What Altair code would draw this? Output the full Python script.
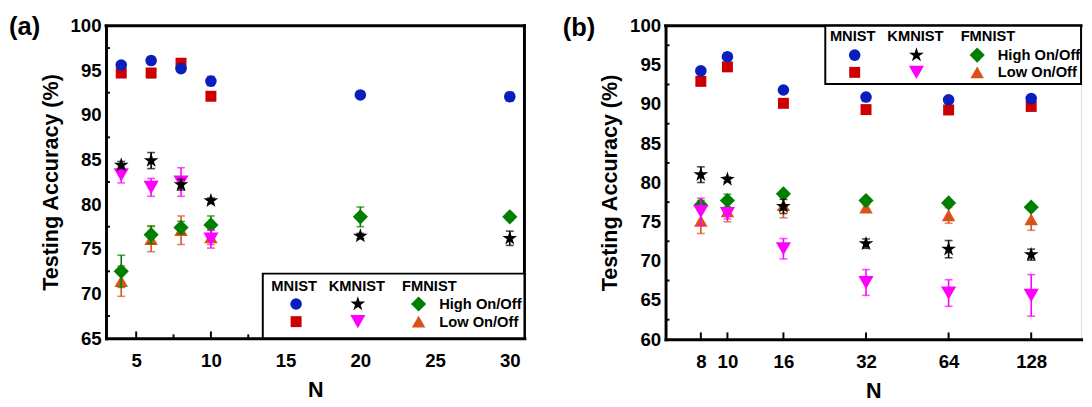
import altair as alt
import pandas as pd

FONT = "Liberation Sans"

# ---------------- data: panel (a) ----------------
a_N = [4, 6, 8, 10, 20, 30]
a_mnist_high = [95.6, 96.1, 95.2, 93.8, 92.25, 92.05]
a_mnist_high_err = [0.3, 0.3, 0.3, 0.5, 0.3, 0.5]
a_mnist_low = [94.7, 94.7, 95.8, 92.1]
a_mnist_low_err = [0.4, 0.5, 0.3, 0.3]
a_kmnist_high = [84.4, 84.9, 82.2, 80.4, 76.45, 76.2]
a_kmnist_high_err = [0.4, 0.9, 0.6, 0.3, 0.3, 0.8]
a_kmnist_low = [83.3, 81.9, 82.5, 76.1]
a_kmnist_low_err = [0.9, 1.0, 1.6, 1.0]
a_fmnist_high = [72.5, 76.6, 77.4, 77.7, 78.6, 78.6]
a_fmnist_high_err = [1.8, 1.0, 0.7, 1.0, 1.1, 0.4]
a_fmnist_low = [71.4, 76.1, 77.1, 76.3]
a_fmnist_low_err = [1.7, 1.4, 1.6, 0.8]

# ---------------- data: panel (b) ----------------
b_N = [8, 10, 16, 32, 64, 128]
b_mnist_high = [94.25, 96.05, 91.8, 90.9, 90.55, 90.7]
b_mnist_high_err = [0.3, 0.3, 0.3, 0.3, 0.3, 0.3]
b_mnist_low = [92.9, 94.75, 90.1, 89.3, 89.25, 89.7]
b_mnist_low_err = [0.4, 0.4, 0.3, 0.3, 0.3, 0.3]
b_kmnist_high = [81.0, 80.4, 76.95, 72.2, 71.5, 70.8]
b_kmnist_high_err = [1.0, 0.3, 0.9, 0.6, 1.1, 0.7]
b_kmnist_low = [76.3, 76.05, 71.55, 67.25, 65.9, 65.6]
b_kmnist_low_err = [1.7, 0.7, 1.3, 1.65, 1.7, 2.65]
b_fmnist_high = [77.1, 77.7, 78.55, 77.7, 77.4, 76.85]
b_fmnist_high_err = [0.6, 0.8, 0.4, 0.3, 0.3, 0.3]
b_fmnist_low = [75.1, 76.3, 77.1, 76.8, 75.8, 75.3]
b_fmnist_low_err = [1.6, 1.3, 1.6, 0.3, 1.0, 1.4]

# tick values
a_xticks = [5, 10, 15, 20, 25, 30]
a_xminor = [7.5, 12.5, 17.5, 22.5, 27.5]
a_yticks = [65, 70, 75, 80, 85, 90, 95, 100]
a_yminor = [67.5, 72.5, 77.5, 82.5, 87.5, 92.5, 97.5]
b_xticks = [8, 10, 16, 32, 64, 128]
b_yticks = [60, 65, 70, 75, 80, 85, 90, 95, 100]
b_yminor = [62.5, 67.5, 72.5, 77.5, 82.5, 87.5, 92.5, 97.5]

STAR = ("M0,-1L0.2245,-0.309L0.951,-0.309L0.363,0.118L0.588,0.809L0,0.382"
        "L-0.588,0.809L-0.363,0.118L-0.951,-0.309L-0.2245,-0.309Z")

STYLE = {
    "mnist_high": ("#0a1ebe", "circle", 140),
    "mnist_low": ("#cc0000", "square", 125),
    "kmnist_high": ("#000000", STAR, 250),
    "kmnist_low": ("#ff00ff", "triangle-down", 240),
    "fmnist_high": ("#008000", "diamond", 240),
    "fmnist_low": ("#d95319", "triangle-up", 190),
}
DRAW_ORDER = ["mnist_low", "mnist_high", "fmnist_low", "fmnist_high", "kmnist_low", "kmnist_high"]

dummy = pd.DataFrame({"d": [0]})


def make_axis_x(values, fmt):
    return alt.Axis(title="N", values=values, format=fmt, ticks=False, tickSize=0, grid=False,
                    domainWidth=3, domainColor="black", domainCap="square",
                    labelFont=FONT, labelFontSize=19, labelFontWeight="bold", labelColor="black",
                    labelPadding=14, labelFlush=False, labelOverlap=False,
                    titleFont=FONT, titleFontSize=22, titleFontWeight="bold", titleColor="black",
                    titlePadding=9)


def make_axis_y(values):
    return alt.Axis(title="Testing Accuracy (%)", values=values, format="d", ticks=False, tickSize=0,
                    grid=False, domainWidth=3, domainColor="black", domainCap="square",
                    labelFont=FONT, labelFontSize=19, labelFontWeight="bold", labelColor="black",
                    labelPadding=5, labelOverlap=False,
                    titleFont=FONT, titleFontSize=22, titleFontWeight="bold", titleColor="black",
                    titlePadding=8)


def panel(N, series, xscale, yscale, xaxis, yaxis, W, H, xt_major, xt_minor, yt_minor,
          leg, label, label_xy, right_border):
    X = lambda f: alt.X(f"{f}:Q", scale=xscale, axis=xaxis)
    Y = lambda f: alt.Y(f"{f}:Q", scale=yscale, axis=yaxis)
    layers = []
    for key in DRAW_ORDER:
        vals, errs = series[key]
        color, shape, size = STYLE[key]
        df = pd.DataFrame({
            "N": N[:len(vals)],
            "acc": vals,
            "lo": [v - e for v, e in zip(vals, errs)],
            "hi": [v + e for v, e in zip(vals, errs)],
        })
        c = alt.Chart(df)
        layers.append(c.mark_rule(color=color, strokeWidth=1.6).encode(x=X("N"), y=Y("lo"), y2="hi"))
        layers.append(c.mark_tick(color=color, orient="horizontal", size=8, thickness=1.6)
                      .encode(x=X("N"), y=Y("lo")))
        layers.append(c.mark_tick(color=color, orient="horizontal", size=8, thickness=1.6)
                      .encode(x=X("N"), y=Y("hi")))
        layers.append(c.mark_point(filled=True, shape=shape, size=size, color=color, opacity=1,
                                   strokeWidth=0).encode(x=X("N"), y=Y("acc")))
    # ticks (inside)
    layers.append(alt.Chart(pd.DataFrame({"t": xt_major})).mark_rule(color="black", strokeWidth=2)
                  .encode(x=X("t"), y=alt.value(H), y2=alt.value(H - 7)))
    if xt_minor:
        layers.append(alt.Chart(pd.DataFrame({"t": xt_minor})).mark_rule(color="black", strokeWidth=2)
                      .encode(x=X("t"), y=alt.value(H), y2=alt.value(H - 4)))
    layers.append(alt.Chart(pd.DataFrame({"t": yt_minor})).mark_rule(color="black", strokeWidth=2)
                  .encode(y=Y("t"), x=alt.value(0), x2=alt.value(4)))
    # frame
    layers.append(alt.Chart(dummy).mark_rule(color="black", strokeWidth=3, strokeCap="square")
                  .encode(x=alt.value(0), x2=alt.value(W), y=alt.value(0)))
    if right_border:
        layers.append(alt.Chart(dummy).mark_rule(color="black", strokeWidth=3, strokeCap="square")
                      .encode(x=alt.value(W), y=alt.value(0), y2=alt.value(H)))
    # legend
    bx0, bx1, by0, by1, hy, r1, r2, hcols, cols, tx = leg
    layers.append(alt.Chart(dummy).mark_rect(fill="white", stroke="black", strokeWidth=2)
                  .encode(x=alt.value(bx0), x2=alt.value(bx1), y=alt.value(by0), y2=alt.value(by1)))
    for name, cx in zip(["MNIST", "KMNIST", "FMNIST"], hcols):
        layers.append(alt.Chart(dummy).mark_text(text=name, font=FONT, fontSize=15, fontWeight="bold",
                                                 align="center", baseline="middle", color="black")
                      .encode(x=alt.value(cx), y=alt.value(hy)))
    for keys, ry in [(["mnist_high", "kmnist_high", "fmnist_high"], r1),
                     (["mnist_low", "kmnist_low", "fmnist_low"], r2)]:
        for key, cx in zip(keys, cols):
            color, shape, size = STYLE[key]
            layers.append(alt.Chart(dummy).mark_point(filled=True, shape=shape, size=size, color=color,
                                                      opacity=1, strokeWidth=0)
                          .encode(x=alt.value(cx), y=alt.value(ry)))
    for txt, ry in [("High On/Off", r1), ("Low On/Off", r2)]:
        layers.append(alt.Chart(dummy).mark_text(text=txt, font=FONT, fontSize=15, fontWeight="bold",
                                                 align="left", baseline="middle", color="black")
                      .encode(x=alt.value(tx), y=alt.value(ry)))
    # panel label
    layers.append(alt.Chart(dummy).mark_text(text=label, font=FONT, fontSize=26, fontWeight="bold",
                                             align="left", baseline="middle", color="black")
                  .encode(x=alt.value(label_xy[0]), y=alt.value(label_xy[1])))
    return alt.layer(*layers).properties(width=W, height=H)


WA, HA = 427, 319
WB, HB = 424, 320

series_a = {
    "mnist_high": (a_mnist_high, a_mnist_high_err),
    "mnist_low": (a_mnist_low, a_mnist_low_err),
    "kmnist_high": (a_kmnist_high, a_kmnist_high_err),
    "kmnist_low": (a_kmnist_low, a_kmnist_low_err),
    "fmnist_high": (a_fmnist_high, a_fmnist_high_err),
    "fmnist_low": (a_fmnist_low, a_fmnist_low_err),
}
series_b = {
    "mnist_high": (b_mnist_high, b_mnist_high_err),
    "mnist_low": (b_mnist_low, b_mnist_low_err),
    "kmnist_high": (b_kmnist_high, b_kmnist_high_err),
    "kmnist_low": (b_kmnist_low, b_kmnist_low_err),
    "fmnist_high": (b_fmnist_high, b_fmnist_high_err),
    "fmnist_low": (b_fmnist_low, b_fmnist_low_err),
}

pa = panel(a_N, series_a,
           alt.Scale(domain=[2.98, 30.98], zero=False, nice=False),
           alt.Scale(domain=[65, 100], zero=False, nice=False),
           make_axis_x(a_xticks, "d"), make_axis_y(a_yticks), WA, HA,
           a_xticks, a_xminor, a_yminor,
           (160, WA, 253, HA, 266, 284, 302, [192, 256, 330], [194, 257, 319], 340),
           "(a)", (-99, 1.5), True)

pb = panel(b_N, series_b,
           alt.Scale(type="log", base=2, domain=[5.95, 194.5], nice=False),
           alt.Scale(domain=[60, 100], zero=False, nice=False),
           make_axis_x(b_xticks, "d"), make_axis_y(b_yticks), WB, HB,
           b_xticks, [], b_yminor,
           (163, WB, 0, 59.5, 11, 30, 47.6, [191, 255, 329], [193, 256, 318], 339),
           "(b)", (-105, 2), False)

chart = alt.hconcat(pa, pb, spacing=35).properties(
    padding={"left": 0, "top": 2, "right": 0, "bottom": 0}
).configure_view(stroke=None).configure(font=FONT)

chart.save("out.html", embed_options={"renderer": "svg", "actions": False})
